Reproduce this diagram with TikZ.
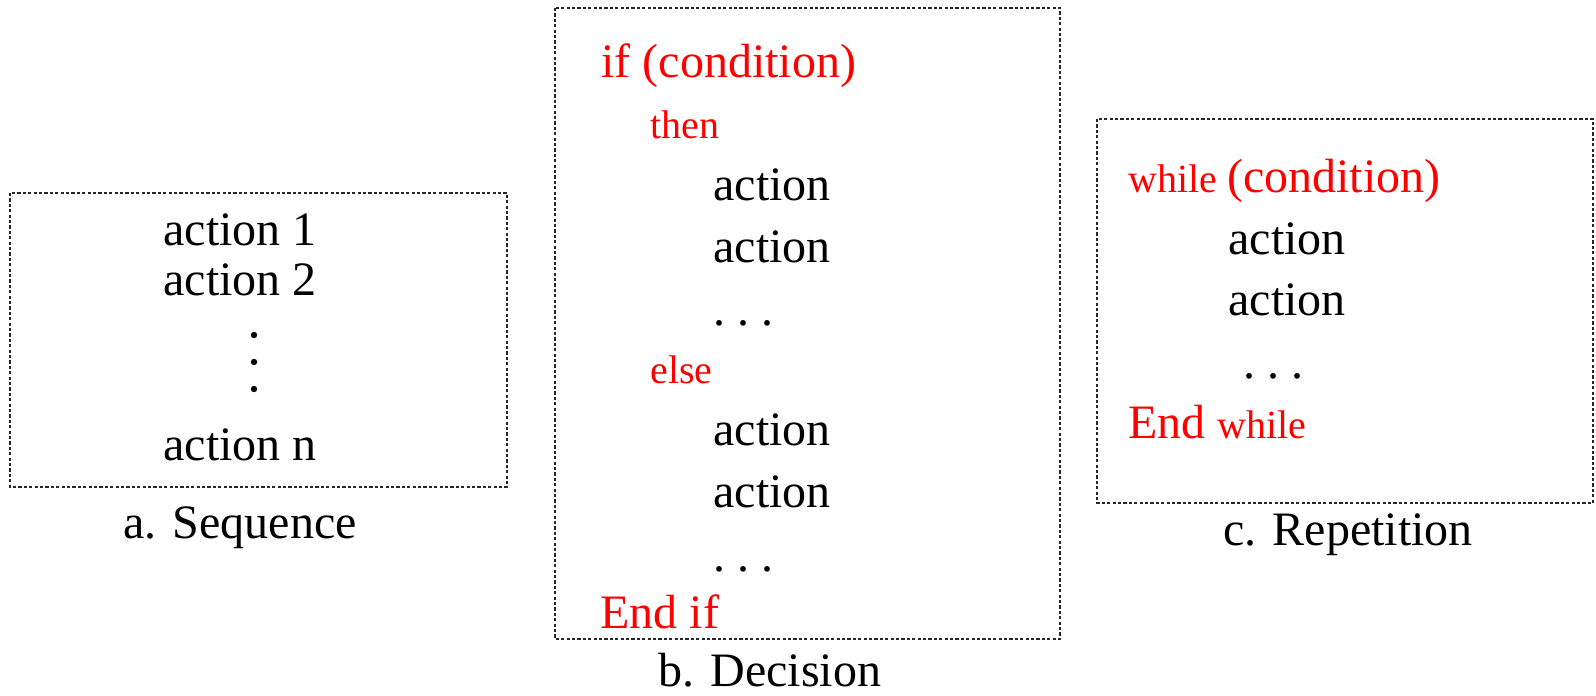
\documentclass[tikz,border=0pt]{standalone}
\usepackage{fontspec}
\setmainfont{Liberation Serif}
\begin{document}
\begin{tikzpicture}[x=0.5pt,y=-0.5pt,
  frame/.style={draw=black!85,line width=0.6pt,dash pattern=on 1.6pt off 1.1pt},
  big/.style={anchor=base west,inner sep=0pt,font=\fontsize{24}{28}\selectfont},
  small/.style={anchor=base west,inner sep=0pt,font=\fontsize{20}{24}\selectfont},
  kw/.style={text=red},
  dotty/.style={fill=black,draw=none,circle,inner sep=0pt,minimum size=3.2pt}]
\useasboundingbox (0,0) rectangle (1596,696);
% frames
\draw[frame] (10,193) rectangle (507,487);
\draw[frame] (555,8) rectangle (1060,639);
\draw[frame] (1097,119) rectangle (1593,503);
% a. Sequence
\node[big] (a1) at (163,245) {action 1};
\node[big] (a2) at (163,295) {action 2};
\node[dotty] (ad1) at (254,335) {};
\node[dotty] (ad2) at (254,362) {};
\node[dotty] (ad3) at (254,389) {};
\node[big] (an) at (163,460) {action n};
\node[big] (la) at (123,538) {a. Sequence};
% b. Decision
\node[big,kw] (bif) at (601,77) {if (condition)};
\node[small,kw] (bthen) at (650,138) {then};
\node[big] (b1) at (713,200) {action};
\node[big] (b2) at (713,262) {action};
\node[big] (b3) at (713,325) {.\hspace{0.25em}.\hspace{0.25em}.};
\node[small,kw] (belse) at (650,383) {else};
\node[big] (b4) at (713,445) {action};
\node[big] (b5) at (713,507) {action};
\node[big] (b6) at (713,571) {.\hspace{0.25em}.\hspace{0.25em}.};
\node[big,kw] (bend) at (600,628) {End if};
\node[big] (lb) at (658,686) {b. Decision};
% c. Repetition
\node[big,kw] (cwh) at (1128,192) {\fontsize{20}{24}\selectfont while \fontsize{24}{28}\selectfont(condition)};
\node[big] (c1) at (1228,254) {action};
\node[big] (c2) at (1228,315) {action};
\node[big] (c3) at (1243,378) {.\hspace{0.25em}.\hspace{0.25em}.};
\node[big,kw] (cend) at (1128,438) {End \fontsize{20}{24}\selectfont while};
\node[big] (lc) at (1223,545) {c. Repetition};
\end{tikzpicture}
\end{document}
